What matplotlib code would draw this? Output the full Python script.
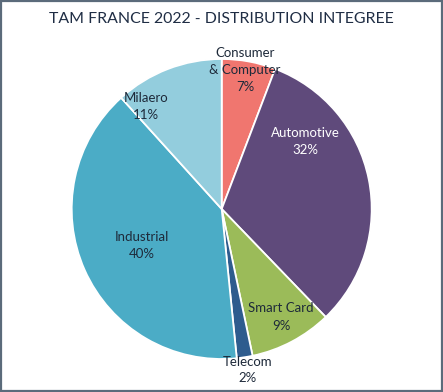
import matplotlib
matplotlib.use("Agg")
import matplotlib.pyplot as plt
from matplotlib.patches import Rectangle

plt.rcParams['font.family'] = ['Lato', 'DejaVu Sans']

# slice sizes as they appear in the picture, and the labels printed on them
segments = ['Consumer\n& Computer', 'Automotive', 'Smart Card', 'Telecom', 'Industrial', 'Milaero']
shares = [5.8, 32.0, 8.9, 1.7, 39.9, 11.7]
shown_pct = ['7%', '32%', '9%', '2%', '40%', '11%']
colors = ['#F0766F', '#5F4A7B', '#9BBB59', '#2E5C8E', '#4BACC6', '#93CDDD']
label_colors = ['#1E2A3A', 'white', '#1E2A3A', '#1E2A3A', '#1E2A3A', '#1E2A3A']

# label centres in pixels of the original picture (x, y from top)
label_px = [(245, 70), (305, 141), (281, 317), (248, 370), (142, 245), (146, 106)]

W, H = 443, 392
fig = plt.figure(figsize=(W / 100, H / 100), dpi=100)
cx, cy, r = 221.7, 209, 150
ax = fig.add_axes([(cx - r) / W, (H - cy - r) / H, 2 * r / W, 2 * r / H])

ax.pie(shares, colors=colors, startangle=90, counterclock=False,
       wedgeprops=dict(edgecolor='white', linewidth=1.3))
ax.set_xlim(-1, 1)
ax.set_ylim(-1, 1)
ax.set_aspect('equal')
ax.axis('off')

for name, pct, col, (px, py) in zip(segments, shown_pct, label_colors, label_px):
    ax.text((px - cx) / r, (cy - py) / r, name + '\n' + pct, ha='center', va='center',
            fontsize=9.5, color=col, linespacing=1.5)

fig.text(0.5, 1 - 19 / H, 'TAM FRANCE 2022 - DISTRIBUTION INTEGREE', ha='center', va='center',
         fontsize=11.4, color='#1F2D44')

fig.patches.append(Rectangle((0.5 / W, 1 / H), (W - 2) / W, (H - 2) / H, transform=fig.transFigure,
                             fill=False, edgecolor='#5B6B7B', linewidth=1.6))

fig.savefig('out.png', dpi=100, facecolor='white')
